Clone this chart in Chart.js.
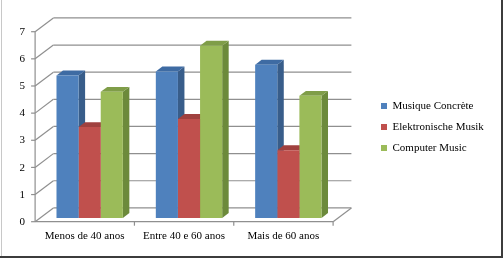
<!DOCTYPE html>
<html>
<head>
<meta charset="utf-8">
<script src="https://cdn.jsdelivr.net/npm/chart.js@4.4.0/dist/chart.umd.min.js"></script>
<style>
  html, body { margin: 0; padding: 0; background: #fff; }
  #wrap { width: 503px; height: 258px; position: relative; }
</style>
</head>
<body>
<div id="wrap"><canvas id="grafico"></canvas></div>
<script>
const categorias = ["Menos de 40 anos", "Entre 40 e 60 anos", "Mais de 60 anos"];
const nomesSeries = ["Musique Concrète", "Elektronische Musik", "Computer Music"];
const musiqueConcrete = [5.25, 5.4, 5.65];
const elektronische = [3.35, 3.65, 2.5];
const computerMusic = [4.65, 6.35, 4.5];
const ticksY = [0, 1, 2, 3, 4, 5, 6, 7];

const coresFrente = ["#4F81BD", "#C0504D", "#9BBB59"];
const coresLado = ["#385D8A", "#8C3B39", "#6C8A3B"];
const coresTopo = ["#3E6BA3", "#A0413F", "#7F9D48"];

// deslocamentos do efeito 3D, relativos ao plano das barras
const FRENTE = { x: -4.9, y: 3.7 };
const FUNDO = { x: 13.4, y: -10.1 };
const PROF = { x: 6.5, y: -4.9 };
const corGrade = "#8f8f8f";

const fonte = { family: "'Liberation Serif', serif", size: 11 };

function linha(ctx, x1, y1, x2, y2) {
  ctx.beginPath();
  ctx.moveTo(x1, y1);
  ctx.lineTo(x2, y2);
  ctx.stroke();
}

function poligono(ctx, pts, cor) {
  ctx.beginPath();
  ctx.moveTo(pts[0][0], pts[0][1]);
  for (let i = 1; i < pts.length; i++) ctx.lineTo(pts[i][0], pts[i][1]);
  ctx.closePath();
  ctx.fillStyle = cor;
  ctx.fill();
}

const caixa3d = {
  id: "caixa3d",
  beforeDraw(chart) {
    const ctx = chart.ctx;
    ctx.save();
    ctx.fillStyle = "#fff";
    ctx.fillRect(0, 0, chart.width, chart.height);
    ctx.restore();
  },
  afterLayout(chart) {
    // legenda deslocada para a direita, como no original
    const lg = chart.legend;
    const h = lg.height;
    lg.left = 371; lg.right = chart.width - 2;
    lg.width = lg.right - lg.left;
    lg.top = 90.5; lg.bottom = 90.5 + h;
  },
  beforeDatasetsDraw(chart) {
    const ctx = chart.ctx;
    const xs = chart.scales.x;
    const ys = chart.scales.y;
    const L = xs.left, R = xs.right;
    const y0 = ys.getPixelForValue(ticksY[0]);
    const yMax = ys.getPixelForValue(ticksY[ticksY.length - 1]);
    ctx.save();
    ctx.strokeStyle = corGrade;
    ctx.lineWidth = 1.2;

    // parede do fundo e parede lateral
    ticksY.forEach(v => {
      const py = ys.getPixelForValue(v);
      linha(ctx, L + FRENTE.x, py + FRENTE.y, L + FUNDO.x, py + FUNDO.y);
      linha(ctx, L + FUNDO.x, py + FUNDO.y, R + FUNDO.x, py + FUNDO.y);
      linha(ctx, L + FRENTE.x - 4, py + FRENTE.y, L + FRENTE.x, py + FRENTE.y);
    });
    // eixo da frente
    linha(ctx, L + FRENTE.x, y0 + FRENTE.y, L + FRENTE.x, yMax + FRENTE.y);
    // chão
    linha(ctx, L + FRENTE.x, y0 + FRENTE.y, R + FRENTE.x, y0 + FRENTE.y);
    linha(ctx, R + FRENTE.x, y0 + FRENTE.y, R + FUNDO.x, y0 + FUNDO.y);
    const larg = (R - L) / categorias.length;
    for (let i = 1; i <= categorias.length; i++) {
      const px = L + FRENTE.x + i * larg;
      linha(ctx, px, y0 + FRENTE.y, px, y0 + FRENTE.y + 4);
    }

    // faces laterais e de cima das barras
    categorias.forEach((c, j) => {
      chart.data.datasets.forEach((ds, di) => {
        const bar = chart.getDatasetMeta(di).data[j];
        const esq = bar.x - bar.width / 2;
        const dir = bar.x + bar.width / 2;
        poligono(ctx, [[dir, bar.y], [dir + PROF.x, bar.y + PROF.y],
          [dir + PROF.x, bar.base + PROF.y], [dir, bar.base]], coresLado[di]);
        poligono(ctx, [[esq, bar.y], [esq + PROF.x, bar.y + PROF.y],
          [dir + PROF.x, bar.y + PROF.y], [dir, bar.y]], coresTopo[di]);
      });
    });
    ctx.restore();
  },
  afterDraw(chart) {
    const ctx = chart.ctx;
    ctx.save();
    ctx.fillStyle = "#c8c8c8";
    ctx.fillRect(1, 0, 1, chart.height);
    ctx.fillStyle = "#3c3c3c";
    ctx.fillRect(chart.width - 2, 0, 2, chart.height);
    ctx.fillRect(0, chart.height - 2, chart.width, 2);
    ctx.restore();
  }
};

const series = [musiqueConcrete, elektronische, computerMusic];

new Chart(document.getElementById("grafico"), {
  type: "bar",
  data: {
    labels: categorias,
    datasets: series.map((dados, i) => ({
      label: nomesSeries[i],
      data: dados,
      backgroundColor: coresFrente[i],
      borderWidth: 0,
      barPercentage: 1,
      categoryPercentage: 0.668
    }))
  },
  options: {
    responsive: true,
    maintainAspectRatio: false,
    animation: false,
    layout: { padding: { left: 0, top: 28, right: 65, bottom: 0 } },
    scales: {
      x: {
        grid: { display: false, drawTicks: false },
        border: { display: false },
        ticks: { font: fonte, color: "#000", padding: 12, labelOffset: -5, maxRotation: 0 },
        afterFit: s => { s.height = 40; }
      },
      y: {
        min: ticksY[0],
        max: ticksY[ticksY.length - 1],
        grid: { display: false, drawTicks: false },
        border: { display: false },
        ticks: { stepSize: 1, font: fonte, color: "#000", padding: 15, labelOffset: 4 },
        afterFit: s => { s.width = 40; }
      }
    },
    plugins: {
      legend: {
        position: "right",
        align: "start",
        maxWidth: 100,
        labels: { boxWidth: 6, boxHeight: 6, padding: 10, font: fonte, color: "#000" }
      },
      tooltip: { enabled: false }
    }
  },
  plugins: [caixa3d]
});
</script>
</body>
</html>
